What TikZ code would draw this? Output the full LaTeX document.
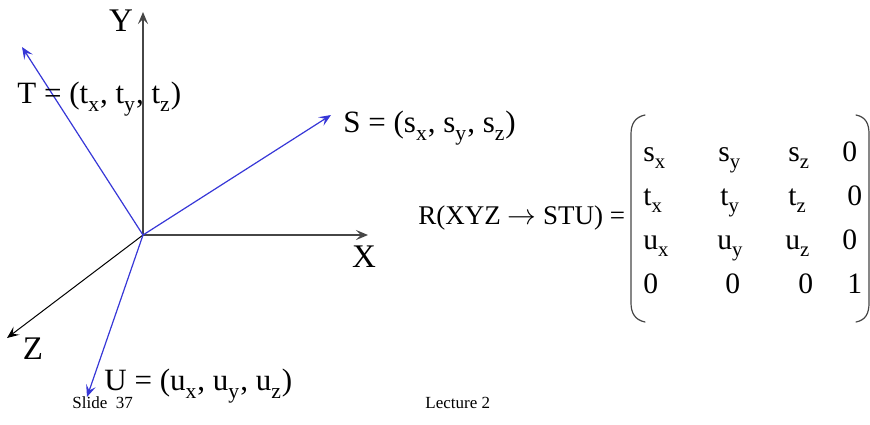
\documentclass[tikz,border=0pt]{standalone}
\usepackage{fontspec}
\setmainfont{Liberation Serif}
\usepackage{tikz}
\usetikzlibrary{arrows.meta}
\definecolor{vecblue}{RGB}{55,55,215}
\definecolor{axisgray}{RGB}{70,70,70}
\newcommand{\lo}[1]{\raisebox{-0.12em}{\textsubscript{#1}}}
\newcommand{\bigtxt}{\fontsize{15.5}{18}\selectfont}
\newcommand{\midtxt}{\fontsize{14.8}{17}\selectfont}
\newcommand{\smalltxt}{\fontsize{8.5}{10}\selectfont}

\begin{document}
\begin{tikzpicture}[x=0.5pt, y=-0.5pt, line cap=round, line join=round,
		axis/.style={draw=axisgray, line width=1pt, -{Stealth[length=6pt,width=5pt,inset=2.5pt]}},
		zaxis/.style={draw=black, line width=0.5pt, -{Stealth[length=6pt,width=5pt,inset=2.5pt]}},
		vec/.style={draw=vecblue, line width=0.6pt, -{Stealth[length=6pt,width=5pt,inset=2.5pt]}},
		lbl/.style={inner sep=0pt, anchor=base west, font=\bigtxt},
		entry/.style={inner sep=0pt, anchor=base west, font=\midtxt}]
			\useasboundingbox (0,0) rectangle (870,424);
			
			% Origin and tips of the frames
			\coordinate (o) at (143,235);
			\coordinate (ytip) at (143,12);
			\coordinate (xtip) at (368,235);
			\coordinate (ztip) at (7,338);
			\coordinate (stip) at (331,115);
			\coordinate (ttip) at (22,47);
			\coordinate (utip) at (87,397);
			
			% XYZ axes
			\draw[axis] (o) -- (ytip);
			\draw[axis] (o) -- (xtip);
			\draw[zaxis] (o) -- (ztip);
			\node[lbl, anchor=base, font=\fontsize{16.5}{19}\selectfont] (ylab) at (121,31) {Y};
			\node[lbl, anchor=base, font=\fontsize{16.5}{19}\selectfont] (xlab) at (364,267) {X};
			\node[lbl, anchor=base, font=\fontsize{16.5}{19}\selectfont] (zlab) at (33,359) {Z};
			
			% STU vectors
			\draw[vec] (o) -- (stip);
			\draw[vec] (o) -- (ttip);
			\draw[vec] (o) -- (utip);
			\node[lbl] (slab) at (343,132) {S = (s\lo{x}, s\lo{y}, s\lo{z})};
			\node[lbl] (tlab) at (17,103) {T = (t\lo{x}, t\lo{y}, t\lo{z})};
			\node[lbl] (ulab) at (104,390) {U = (u\lo{x}, u\lo{y}, u\lo{z})};
			
			% Rotation matrix
			\node[entry, font=\fontsize{13.5}{16}\selectfont] (rlab) at (418,224) {R(XYZ $\rightarrow$ STU) =};
			\draw[axisgray, line width=0.6pt] (645,115) .. controls (635,117) and (631,124) .. (631,134) -- (631,303) .. controls (631,313) and (635,320) .. (645,322);
			\draw[axisgray, line width=0.6pt] (856,115) .. controls (866,117) and (869,124) .. (869,134) -- (869,303) .. controls (869,313) and (866,320) .. (856,322);
			\foreach \e/\x/\y/\n in {s\lo{x}/643/161/a1, s\lo{y}/718/161/a2, s\lo{z}/788/161/a3, 0/842/161/a4,
				t\lo{x}/643/205/b1, t\lo{y}/720/205/b2, t\lo{z}/788/205/b3, 0/847/205/b4,
				u\lo{x}/643/249/c1, u\lo{y}/717/249/c2, u\lo{z}/785/249/c3, 0/842/249/c4,
				0/643/293/d1, 0/725/293/d2, 0/798/293/d3, 1/847/293/d4}
				\node[entry] (m-\n) at (\x,\y) {\e};
			
			% Footer
			\node[inner sep=0pt, anchor=base west, font=\smalltxt] (slide) at (72,408) {Slide~~37};
			\node[inner sep=0pt, anchor=base west, font=\smalltxt] (lecture) at (425,408) {Lecture 2};
		\end{tikzpicture}
\end{document}
